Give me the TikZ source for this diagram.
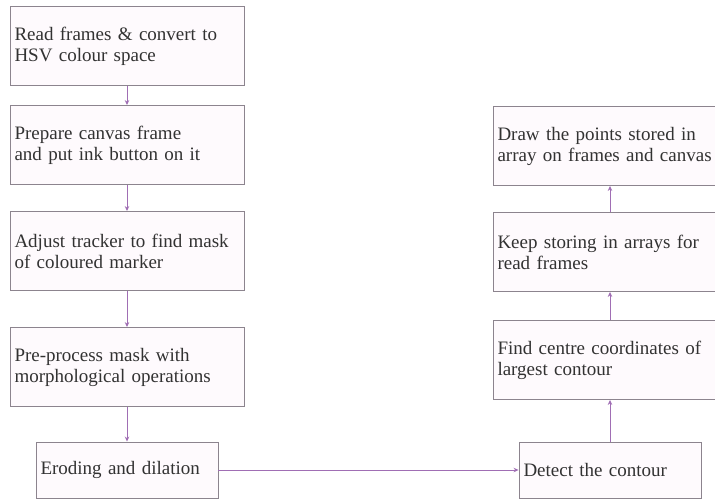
\documentclass[tikz,border=0pt]{standalone}
\usepackage{fontspec}
\setmainfont{Liberation Serif}
\usepackage{tikz}
\usetikzlibrary{arrows.meta, positioning}
\definecolor{boxline}{RGB}{140, 132, 142}
\definecolor{boxfill}{RGB}{254, 250, 253}
\definecolor{flowcolor}{RGB}{160, 110, 180}
\definecolor{textcolor}{RGB}{50, 50, 50}

\begin{document}
\begin{tikzpicture}[
    x=1pt, y=-1pt,
    stepbox/.style={draw=boxline, fill=boxfill, line width=0.9pt, minimum height=79pt, text width=225pt, inner xsep=4.5pt, inner ysep=0pt, align=left, text=textcolor, font=\fontsize{19}{21}\selectfont},
    shortbox/.style={stepbox, minimum height=56pt, text width=173pt},
    arrow/.style={-{Stealth[length=5pt, width=4.5pt]}, flowcolor, line width=0.8pt}
]
    \clip (0, 0) rectangle (715, 500);

    % Left column
    \node[stepbox] (read) at (127, 46) {Read frames \& convert to\\HSV colour space};
    \node[stepbox] (canvas) at (127, 145) {Prepare canvas frame\\and put ink button on it};
    \node[stepbox] (tracker) at (127, 251) {Adjust tracker to find mask\\of coloured marker};
    \node[stepbox] (preproc) at (127, 367) {Pre-process mask with\\morphological operations};
    \node[shortbox] (erode) at (127, 470) {Eroding and dilation};

    % Right column
    \node[shortbox] (detect) at (610, 470) {Detect the contour};
    \node[stepbox] (find) at (610, 360) {Find centre coordinates of\\largest contour};
    \node[stepbox] (keep) at (610, 252) {Keep storing in arrays for\\read frames};
    \node[stepbox] (points) at (610, 146) {Draw the points stored in\\array on frames and canvas};

    % Arrows
    \draw[arrow] (read) -- (canvas);
    \draw[arrow] (canvas) -- (tracker);
    \draw[arrow] (tracker) -- (preproc);
    \draw[arrow] (preproc) -- (erode);
    \draw[arrow] (erode) -- (detect);
    \draw[arrow] (detect) -- (find);
    \draw[arrow] (find) -- (keep);
    \draw[arrow] (keep) -- (points);

\end{tikzpicture}
\end{document}
